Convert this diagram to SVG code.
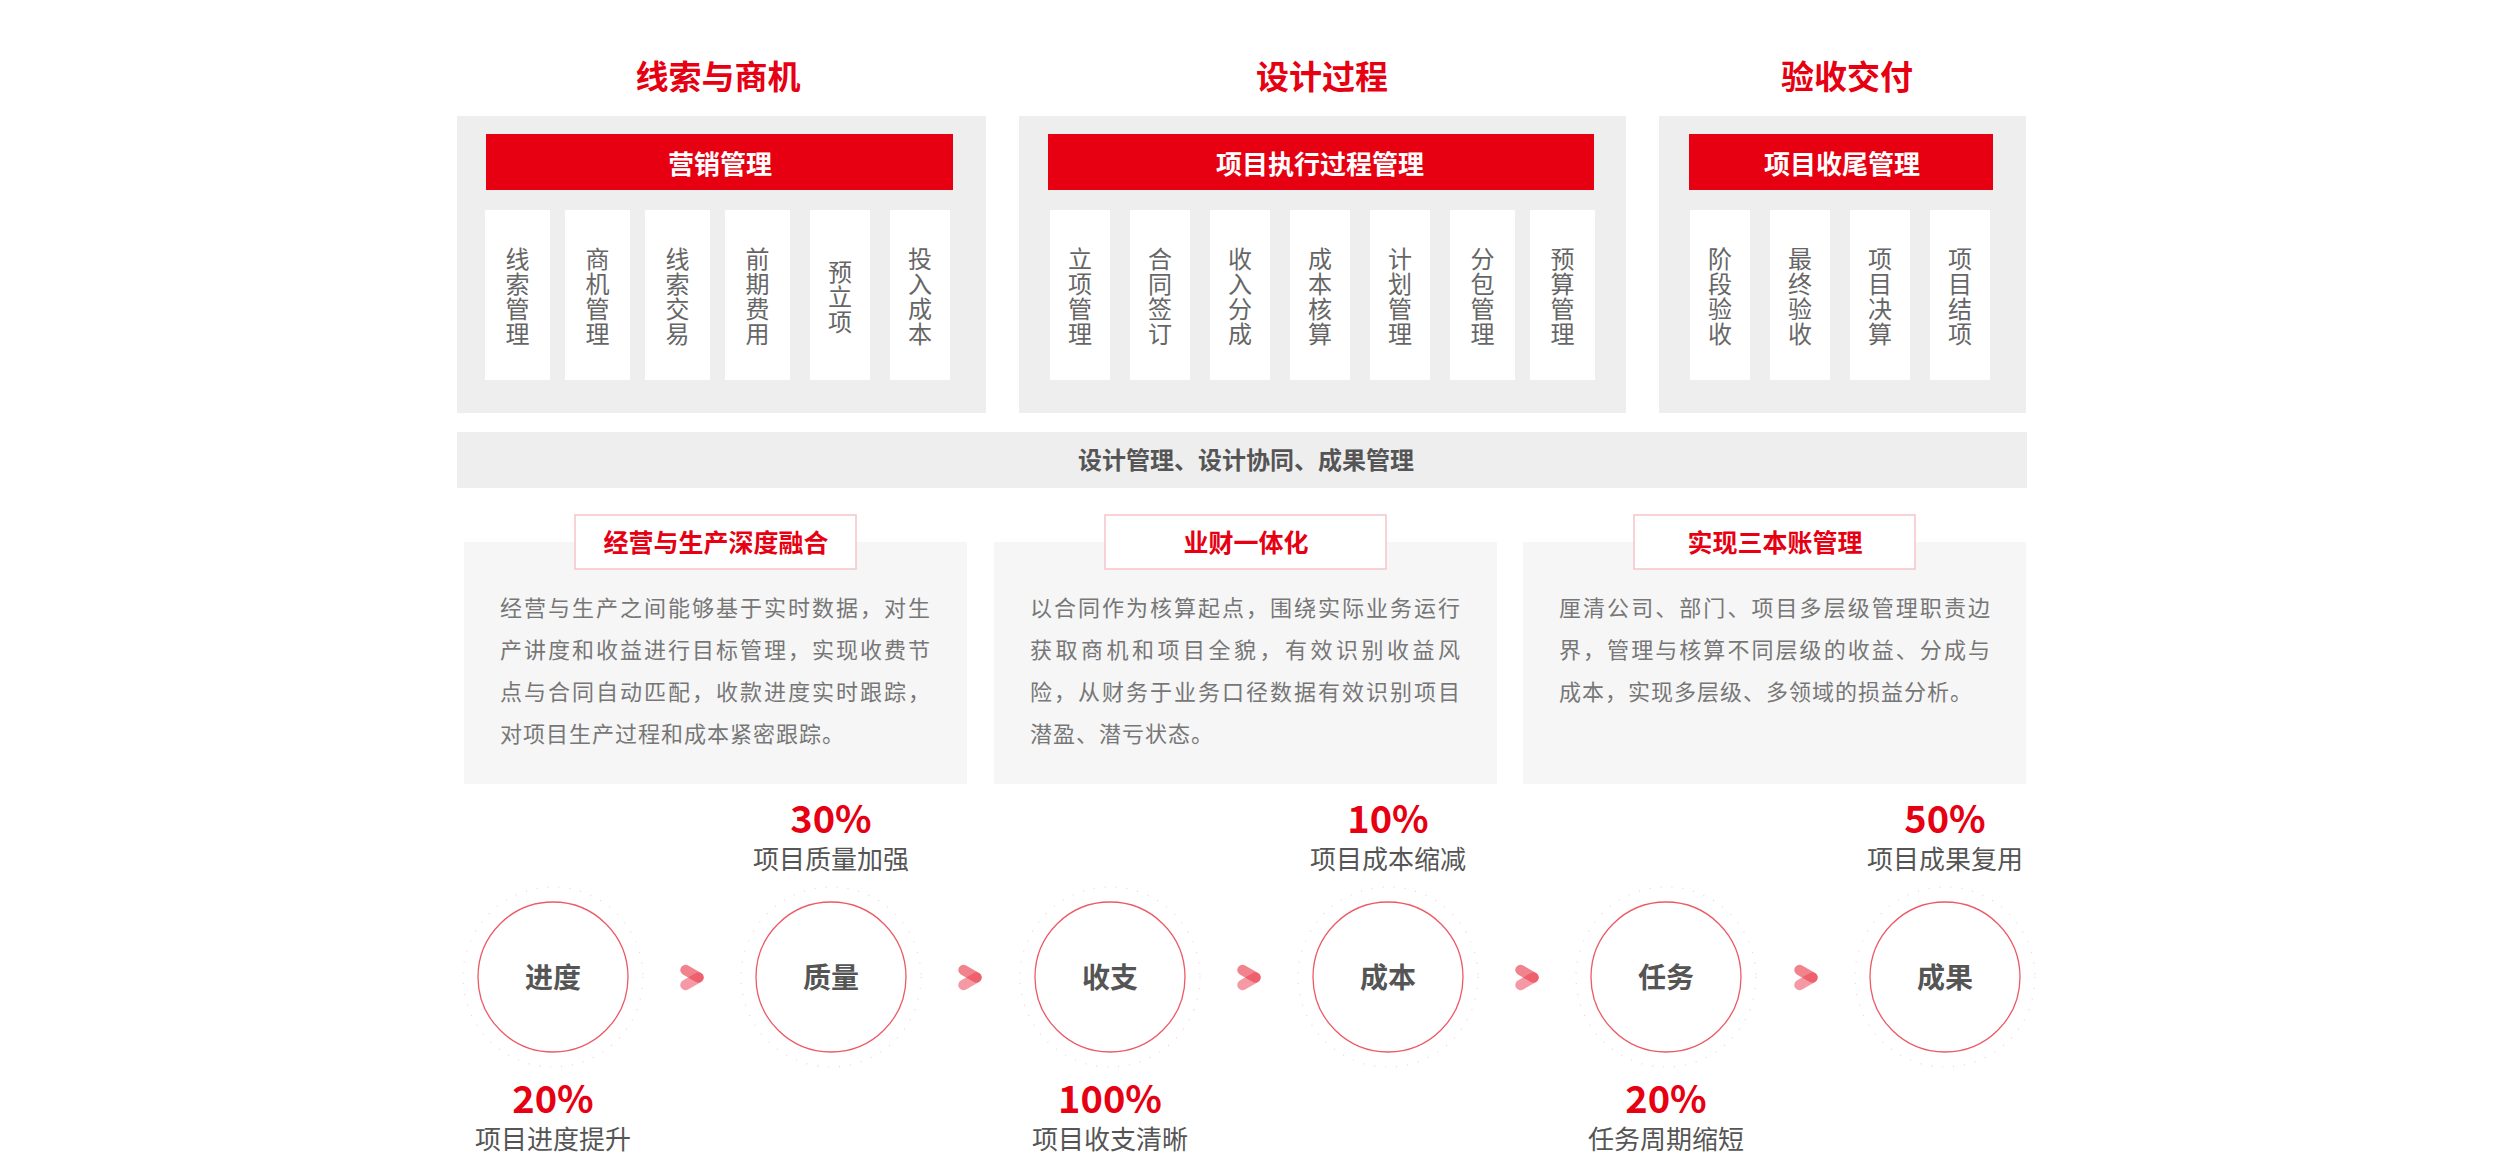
<svg xmlns="http://www.w3.org/2000/svg" width="2497" height="1165" viewBox="0 0 2497 1165">
<defs>
<style>
text{font-family:"Noto Sans CJK SC","Noto Sans",sans-serif}
.title{font-size:33px;font-weight:bold;fill:#e60012;text-anchor:middle}
.panel{fill:#eeeeee}
.bar{fill:#e60012}
.bartxt{font-size:26px;font-weight:bold;fill:#ffffff;text-anchor:middle}
.col{fill:#ffffff}
.coltxt{font-size:24px;fill:#666666;text-anchor:middle}
.band{fill:#eeeeee}
.bandtxt{font-size:24px;font-weight:bold;fill:#555555;text-anchor:middle}
.card{fill:#f6f6f6}
.tag{fill:#ffffff;stroke:#f5c4c9;stroke-width:1.5}
.tagtxt{font-size:25px;font-weight:bold;fill:#e60012;text-anchor:middle}
.body{font-size:22px;fill:#777777}
.last{letter-spacing:1px}
.ring{fill:#ffffff;stroke:#ec5a66;stroke-width:1.3}
.halo{fill:none;stroke:#f3b9bf;stroke-width:1.2;stroke-dasharray:1 10;opacity:0.7}
.ringtxt{font-size:28px;font-weight:bold;fill:#555555;text-anchor:middle}
.pct{font-size:38px;font-weight:bold;fill:#e60012;text-anchor:middle}
.pctlbl{font-size:26px;fill:#555555;text-anchor:middle}
.armA{fill:none;stroke:#f59aa4;stroke-width:10.5;stroke-linecap:round}
.armB{fill:none;stroke:#e8404f;stroke-width:10.5;stroke-linecap:round;opacity:0.65}
</style>
<g id="chev">
<path class="armA" d="M-6.5,8 L6.5,0.5"/>
<path class="armB" d="M-6.5,-7 L6.5,0.5"/>
</g>
</defs>
<rect width="2497" height="1165" fill="#ffffff"/>

<!-- Panel 1 -->
<g id="panel-leads">
<text class="title" x="718" y="89">线索与商机</text>
<rect class="panel" x="457" y="116" width="529" height="297"/>
<rect class="bar" x="486" y="134" width="467" height="56"/>
<text class="bartxt" x="720" y="174">营销管理</text>
<rect class="col" x="485" y="210" width="65" height="170"/>
<rect class="col" x="565" y="210" width="65" height="170"/>
<rect class="col" x="645" y="210" width="65" height="170"/>
<rect class="col" x="725" y="210" width="65" height="170"/>
<rect class="col" x="810" y="210" width="60" height="170"/>
<rect class="col" x="890" y="210" width="60" height="170"/>
<text class="coltxt"><tspan x="517.5" y="268">线</tspan><tspan x="517.5" y="293">索</tspan><tspan x="517.5" y="318">管</tspan><tspan x="517.5" y="343">理</tspan></text>
<text class="coltxt"><tspan x="597.5" y="268">商</tspan><tspan x="597.5" y="293">机</tspan><tspan x="597.5" y="318">管</tspan><tspan x="597.5" y="343">理</tspan></text>
<text class="coltxt"><tspan x="677.5" y="268">线</tspan><tspan x="677.5" y="293">索</tspan><tspan x="677.5" y="318">交</tspan><tspan x="677.5" y="343">易</tspan></text>
<text class="coltxt"><tspan x="757.5" y="268">前</tspan><tspan x="757.5" y="293">期</tspan><tspan x="757.5" y="318">费</tspan><tspan x="757.5" y="343">用</tspan></text>
<text class="coltxt"><tspan x="840" y="281">预</tspan><tspan x="840" y="306">立</tspan><tspan x="840" y="331">项</tspan></text>
<text class="coltxt"><tspan x="920" y="268">投</tspan><tspan x="920" y="293">入</tspan><tspan x="920" y="318">成</tspan><tspan x="920" y="343">本</tspan></text>
</g>

<!-- Panel 2 -->
<g id="panel-design">
<text class="title" x="1322" y="89">设计过程</text>
<rect class="panel" x="1019" y="116" width="607" height="297"/>
<rect class="bar" x="1048" y="134" width="546" height="56"/>
<text class="bartxt" x="1320" y="174">项目执行过程管理</text>
<rect class="col" x="1050" y="210" width="60" height="170"/>
<rect class="col" x="1130" y="210" width="60" height="170"/>
<rect class="col" x="1210" y="210" width="60" height="170"/>
<rect class="col" x="1290" y="210" width="60" height="170"/>
<rect class="col" x="1370" y="210" width="60" height="170"/>
<rect class="col" x="1450" y="210" width="65" height="170"/>
<rect class="col" x="1530" y="210" width="65" height="170"/>
<text class="coltxt"><tspan x="1080" y="268">立</tspan><tspan x="1080" y="293">项</tspan><tspan x="1080" y="318">管</tspan><tspan x="1080" y="343">理</tspan></text>
<text class="coltxt"><tspan x="1160" y="268">合</tspan><tspan x="1160" y="293">同</tspan><tspan x="1160" y="318">签</tspan><tspan x="1160" y="343">订</tspan></text>
<text class="coltxt"><tspan x="1240" y="268">收</tspan><tspan x="1240" y="293">入</tspan><tspan x="1240" y="318">分</tspan><tspan x="1240" y="343">成</tspan></text>
<text class="coltxt"><tspan x="1320" y="268">成</tspan><tspan x="1320" y="293">本</tspan><tspan x="1320" y="318">核</tspan><tspan x="1320" y="343">算</tspan></text>
<text class="coltxt"><tspan x="1400" y="268">计</tspan><tspan x="1400" y="293">划</tspan><tspan x="1400" y="318">管</tspan><tspan x="1400" y="343">理</tspan></text>
<text class="coltxt"><tspan x="1482.5" y="268">分</tspan><tspan x="1482.5" y="293">包</tspan><tspan x="1482.5" y="318">管</tspan><tspan x="1482.5" y="343">理</tspan></text>
<text class="coltxt"><tspan x="1562.5" y="268">预</tspan><tspan x="1562.5" y="293">算</tspan><tspan x="1562.5" y="318">管</tspan><tspan x="1562.5" y="343">理</tspan></text>
</g>

<!-- Panel 3 -->
<g id="panel-delivery">
<text class="title" x="1847" y="89">验收交付</text>
<rect class="panel" x="1659" y="116" width="367" height="297"/>
<rect class="bar" x="1689" y="134" width="304" height="56"/>
<text class="bartxt" x="1842" y="174">项目收尾管理</text>
<rect class="col" x="1690" y="210" width="60" height="170"/>
<rect class="col" x="1770" y="210" width="60" height="170"/>
<rect class="col" x="1850" y="210" width="60" height="170"/>
<rect class="col" x="1930" y="210" width="60" height="170"/>
<text class="coltxt"><tspan x="1720" y="268">阶</tspan><tspan x="1720" y="293">段</tspan><tspan x="1720" y="318">验</tspan><tspan x="1720" y="343">收</tspan></text>
<text class="coltxt"><tspan x="1800" y="268">最</tspan><tspan x="1800" y="293">终</tspan><tspan x="1800" y="318">验</tspan><tspan x="1800" y="343">收</tspan></text>
<text class="coltxt"><tspan x="1880" y="268">项</tspan><tspan x="1880" y="293">目</tspan><tspan x="1880" y="318">决</tspan><tspan x="1880" y="343">算</tspan></text>
<text class="coltxt"><tspan x="1960" y="268">项</tspan><tspan x="1960" y="293">目</tspan><tspan x="1960" y="318">结</tspan><tspan x="1960" y="343">项</tspan></text>
</g>

<!-- Band -->
<g id="band">
<rect class="band" x="457" y="432" width="1570" height="56"/>
<text class="bandtxt" x="1246" y="469">设计管理、设计协同、成果管理</text>
</g>

<!-- Cards -->
<g id="card-1">
<rect class="card" x="464" y="542" width="503" height="242"/>
<rect class="tag" x="575" y="515" width="281" height="54"/>
<text class="tagtxt" x="716" y="552">经营与生产深度融合</text>
<text class="body" x="500" y="616" textLength="430" lengthAdjust="spacing">经营与生产之间能够基于实时数据，对生</text>
<text class="body" x="500" y="658" textLength="430" lengthAdjust="spacing">产讲度和收益进行目标管理，实现收费节</text>
<text class="body" x="500" y="700" textLength="430" lengthAdjust="spacing">点与合同自动匹配，收款进度实时跟踪，</text>
<text class="body last" x="500" y="742">对项目生产过程和成本紧密跟踪。</text>
</g>
<g id="card-2">
<rect class="card" x="994" y="542" width="503" height="242"/>
<rect class="tag" x="1105" y="515" width="281" height="54"/>
<text class="tagtxt" x="1246" y="552">业财一体化</text>
<text class="body" x="1030" y="616" textLength="430" lengthAdjust="spacing">以合同作为核算起点，围绕实际业务运行</text>
<text class="body" x="1030" y="658" textLength="430" lengthAdjust="spacing">获取商机和项目全貌，有效识别收益风</text>
<text class="body" x="1030" y="700" textLength="430" lengthAdjust="spacing">险，从财务于业务口径数据有效识别项目</text>
<text class="body last" x="1030" y="742">潜盈、潜亏状态。</text>
</g>
<g id="card-3">
<rect class="card" x="1523" y="542" width="503" height="242"/>
<rect class="tag" x="1634" y="515" width="281" height="54"/>
<text class="tagtxt" x="1775" y="552">实现三本账管理</text>
<text class="body" x="1559" y="616" textLength="431" lengthAdjust="spacing">厘清公司、部门、项目多层级管理职责边</text>
<text class="body" x="1559" y="658" textLength="431" lengthAdjust="spacing">界，管理与核算不同层级的收益、分成与</text>
<text class="body last" x="1559" y="700">成本，实现多层级、多领域的损益分析。</text>
</g>

<!-- Circles -->
<g id="step-progress">
<circle class="halo" cx="553" cy="977" r="90"/>
<circle class="ring" cx="553" cy="977" r="75"/>
<text class="ringtxt" x="553" y="988">进度</text>
<text class="pct" x="553" y="1113">20%</text>
<text class="pctlbl" x="553" y="1149">项目进度提升</text>
</g>
<g id="step-quality">
<circle class="halo" cx="831" cy="977" r="90"/>
<circle class="ring" cx="831" cy="977" r="75"/>
<text class="ringtxt" x="831" y="988">质量</text>
<text class="pct" x="831" y="833">30%</text>
<text class="pctlbl" x="831" y="869">项目质量加强</text>
</g>
<g id="step-finance">
<circle class="halo" cx="1110" cy="977" r="90"/>
<circle class="ring" cx="1110" cy="977" r="75"/>
<text class="ringtxt" x="1110" y="988">收支</text>
<text class="pct" x="1110" y="1113">100%</text>
<text class="pctlbl" x="1110" y="1149">项目收支清晰</text>
</g>
<g id="step-cost">
<circle class="halo" cx="1388" cy="977" r="90"/>
<circle class="ring" cx="1388" cy="977" r="75"/>
<text class="ringtxt" x="1388" y="988">成本</text>
<text class="pct" x="1388" y="833">10%</text>
<text class="pctlbl" x="1388" y="869">项目成本缩减</text>
</g>
<g id="step-task">
<circle class="halo" cx="1666" cy="977" r="90"/>
<circle class="ring" cx="1666" cy="977" r="75"/>
<text class="ringtxt" x="1666" y="988">任务</text>
<text class="pct" x="1666" y="1113">20%</text>
<text class="pctlbl" x="1666" y="1149">任务周期缩短</text>
</g>
<g id="step-result">
<circle class="halo" cx="1945" cy="977" r="90"/>
<circle class="ring" cx="1945" cy="977" r="75"/>
<text class="ringtxt" x="1945" y="988">成果</text>
<text class="pct" x="1945" y="833">50%</text>
<text class="pctlbl" x="1945" y="869">项目成果复用</text>
</g>

<!-- Connectors -->
<g id="connectors">
<use href="#chev" x="692" y="977"/>
<use href="#chev" x="970" y="977"/>
<use href="#chev" x="1249" y="977"/>
<use href="#chev" x="1527" y="977"/>
<use href="#chev" x="1806" y="977"/>
</g>
</svg>
